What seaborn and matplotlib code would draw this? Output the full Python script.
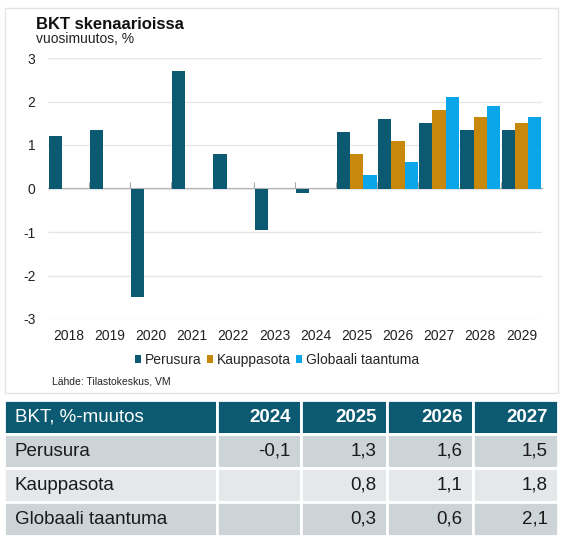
import numpy as np
import pandas as pd
import seaborn as sns
import matplotlib.pyplot as plt
from matplotlib.patches import Rectangle

years = [2018, 2019, 2020, 2021, 2022, 2023, 2024, 2025, 2026, 2027, 2028, 2029]
perusura = [1.2, 1.35, -2.5, 2.7, 0.8, -0.95, -0.1, 1.3, 1.6, 1.5, 1.35, 1.35]
kauppasota = [np.nan] * 7 + [0.8, 1.1, 1.8, 1.65, 1.5]
globaali = [np.nan] * 7 + [0.3, 0.6, 2.1, 1.9, 1.65]
scenarios = ["Perusura", "Kauppasota", "Globaali taantuma"]
colors = ["#0c5a72", "#c8880c", "#0ba6ea"]
yticks = [-3, -2, -1, 0, 1, 2, 3]
table_years = [2024, 2025, 2026, 2027]
table_title = "BKT, %-muutos"

sns.set_style("white")
plt.rcParams["font.family"] = ["Liberation Sans", "DejaVu Sans"]
plt.rcParams["axes.unicode_minus"] = False

df = pd.DataFrame({
    "year": years * 3,
    "scenario": [s for s in scenarios for _ in years],
    "value": perusura + kauppasota + globaali,
})

W, H = 562, 542
fig = plt.figure(figsize=(W / 100, H / 100), dpi=100)

# chart panel frame
fig.add_artist(Rectangle((5 / W, 1 - 393 / H), 553 / W, 385 / H, transform=fig.transFigure,
                         fill=False, edgecolor="#e4e4e4", linewidth=1))

ax = fig.add_axes([48 / W, 1 - 319 / H, 494 / W, 261 / H])
sns.barplot(data=df, x="year", y="value", hue="scenario", hue_order=scenarios,
            palette=colors, width=0.96, saturation=1, errorbar=None, linewidth=0, ax=ax)
handles, labels = ax.get_legend_handles_labels()
ax.get_legend().remove()

ax.set_ylim(-3, 3)
ax.set_xlim(-0.5, len(years) - 0.5)
ax.set_yticks(yticks)
ax.set_xlabel("")
ax.set_ylabel("")
ax.grid(axis="y", color="#e6e6e6", linewidth=1)
ax.set_axisbelow(True)
sns.despine(ax=ax, left=True, bottom=True)
ax.tick_params(axis="x", length=0, pad=7, labelsize=10, labelcolor="#222222")
ax.tick_params(axis="y", length=0, pad=9, labelsize=10, labelcolor="#222222")

# zero line with small ticks between years
sec = ax.secondary_xaxis(0.5)
sec.set_xticks(np.arange(len(years) - 1) + 0.5)
sec.tick_params(length=4, direction="out", color="#a6a6a6", labeltop=False, labelbottom=False)
sec.spines["top"].set_color("#a6a6a6")

fig.text(36 / W, 1 - 29 / H, "BKT skenaarioissa", fontsize=12, fontweight="bold",
         va="baseline", color="#111111")
fig.text(36 / W, 1 - 43 / H, "vuosimuutos, %", fontsize=10, va="baseline", color="#222222")

fig.legend(handles, labels, loc="center", bbox_to_anchor=(277 / W, 1 - 360 / H), ncol=3,
           frameon=False, fontsize=10, handlelength=0.45, handleheight=0.45,
           handletextpad=0.3, columnspacing=0.35)

fig.text(52 / W, 1 - 381 / H, "Lähde: Tilastokeskus, VM", fontsize=7.5, va="center",
         color="#222222")


# table
def fmt(v):
    return "" if np.isnan(v) else f"{v:.1f}".replace(".", ",")


cell_text = []
for name, series in zip(scenarios, [perusura, kauppasota, globaali]):
    cell_text.append([name] + [fmt(series[years.index(y)]) for y in table_years])
col_labels = [table_title] + [str(y) for y in table_years]

tab_ax = fig.add_axes([4 / W, 1 - 536 / H, 554 / W, 136 / H])
tab_ax.axis("off")
col_widths = np.array([213, 84, 86, 86, 85]) / 554
tbl = tab_ax.table(cellText=cell_text, colLabels=col_labels, colWidths=col_widths,
                   bbox=[0, 0, 1, 1], cellLoc="right", colLoc="right")
tbl.auto_set_font_size(False)
tbl.set_fontsize(13.5)
row_colors = ["#0c5a72", "#cdd4d8", "#e4e8ea", "#cdd4d8"]
for (r, c), cell in tbl.get_celld().items():
    cell.set_edgecolor("white")
    cell.set_linewidth(2)
    cell.set_facecolor(row_colors[r])
    txt = cell.get_text()
    if r == 0:
        txt.set_color("white")
        if c > 0:
            txt.set_fontweight("bold")
    else:
        txt.set_color("#1a1a1a")
    if c == 0:
        cell._loc = "left"
        txt.set_horizontalalignment("left")
        cell.PAD = 0.05
    else:
        cell.PAD = 0.12

fig.savefig("out.png", dpi=100)
